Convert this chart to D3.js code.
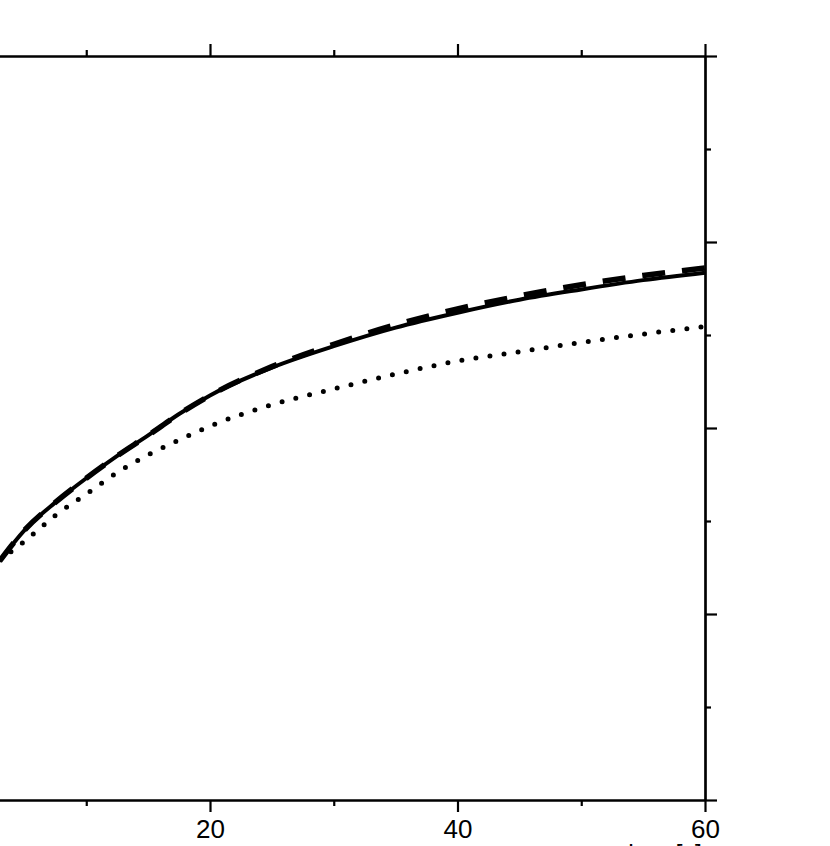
<!DOCTYPE html>
<html>
<head>
<meta charset="utf-8">
<script src="https://cdn.jsdelivr.net/npm/d3@7"></script>
<style>
  html, body { margin: 0; padding: 0; background: #fff; overflow: hidden; }
  svg { display: block; }
</style>
</head>
<body>
<svg id="chart" width="830" height="846"></svg>
<script>
// ---- data ----
const xValues      = [3, 5, 7.5, 10, 12.5, 15, 17.5, 20, 25, 30, 35, 40, 45, 50, 55, 60];
const solidValues  = [0.257, 0.290, 0.320, 0.346, 0.370, 0.392, 0.415, 0.435, 0.465, 0.488, 0.508, 0.524, 0.538, 0.549, 0.559, 0.567];
const dashedValues = [0.257, 0.290, 0.320, 0.346, 0.370, 0.392, 0.415, 0.435, 0.466, 0.490, 0.511, 0.528, 0.542, 0.554, 0.564, 0.572];
const dottedValues = [0.258, 0.278, 0.306, 0.329, 0.352, 0.371, 0.387, 0.402, 0.425, 0.442, 0.458, 0.472, 0.482, 0.492, 0.501, 0.509];
const xMajorTicks  = [0, 20, 40, 60];
const xMinorTicks  = [10, 30, 50];
const yMajorTicks  = [0, 0.2, 0.4, 0.6, 0.8];
const yMinorTicks  = [0.1, 0.3, 0.5, 0.7];
const xTitle       = "time [s]";

// ---- layout ----
const svg = d3.select("#chart");
const x = d3.scaleLinear().domain([0, 60]).range([-37.5, 705]);
const y = d3.scaleLinear().domain([0, 0.8]).range([800, 56]);

const fontFamily = "'Liberation Sans', Arial, sans-serif";

function styleAxis(g) {
  g.selectAll("path.domain").attr("stroke", "#000").attr("stroke-width", 2.2);
  g.selectAll(".tick line").attr("stroke", "#000").attr("stroke-width", 2.2);
  g.selectAll("text").attr("fill", "#000").attr("font-size", 26).attr("font-family", fontFamily);
}

// bottom axis
svg.append("g").attr("transform", "translate(0,800)")
  .call(d3.axisBottom(x).tickValues(xMajorTicks).tickSize(12).tickSizeOuter(0).tickPadding(8)
        .tickFormat(d => d === 0 ? "" : d3.format("d")(d)))
  .call(styleAxis);
svg.append("g").attr("transform", "translate(0,800)")
  .call(d3.axisBottom(x).tickValues(xMinorTicks).tickSize(6).tickSizeOuter(0).tickFormat(""))
  .call(styleAxis);

// top axis
svg.append("g").attr("transform", "translate(0,56)")
  .call(d3.axisTop(x).tickValues(xMajorTicks).tickSize(12).tickSizeOuter(0).tickFormat(""))
  .call(styleAxis);
svg.append("g").attr("transform", "translate(0,56)")
  .call(d3.axisTop(x).tickValues(xMinorTicks).tickSize(6).tickSizeOuter(0).tickFormat(""))
  .call(styleAxis);

// right axis
svg.append("g").attr("transform", "translate(705,0)")
  .call(d3.axisRight(y).tickValues(yMajorTicks).tickSize(12).tickSizeOuter(0).tickFormat(""))
  .call(styleAxis);
svg.append("g").attr("transform", "translate(705,0)")
  .call(d3.axisRight(y).tickValues(yMinorTicks).tickSize(6).tickSizeOuter(0).tickFormat(""))
  .call(styleAxis);

// left axis (falls outside the visible area)
svg.append("g").attr("transform", `translate(${x(0)},0)`)
  .call(d3.axisLeft(y).tickValues(yMajorTicks).tickSize(12).tickSizeOuter(0).tickFormat(""))
  .call(styleAxis);

// x axis title (only its top edge lies inside the picture, as in the reference)
svg.append("text")
  .attr("x", 702).attr("y", 863)
  .attr("text-anchor", "end")
  .attr("font-size", 25).attr("font-family", fontFamily).attr("fill", "#000")
  .text(xTitle);

// ---- curves ----
const line = d3.line().x(d => x(d[0])).y(d => y(d[1])).curve(d3.curveMonotoneX);
const toPts = vals => xValues.map((xv, i) => [xv, vals[i]]);

svg.append("path").datum(toPts(dottedValues))
  .attr("d", line).attr("fill", "none").attr("stroke", "#000")
  .attr("stroke-width", 5).attr("stroke-linecap", "round").attr("stroke-dasharray", "0 14.2");

svg.append("path").datum(toPts(dashedValues))
  .attr("d", line).attr("fill", "none").attr("stroke", "#000")
  .attr("stroke-width", 5.5).attr("stroke-dasharray", "23 17");

svg.append("path").datum(toPts(solidValues))
  .attr("d", line).attr("fill", "none").attr("stroke", "#000")
  .attr("stroke-width", 4);
</script>
</body>
</html>
